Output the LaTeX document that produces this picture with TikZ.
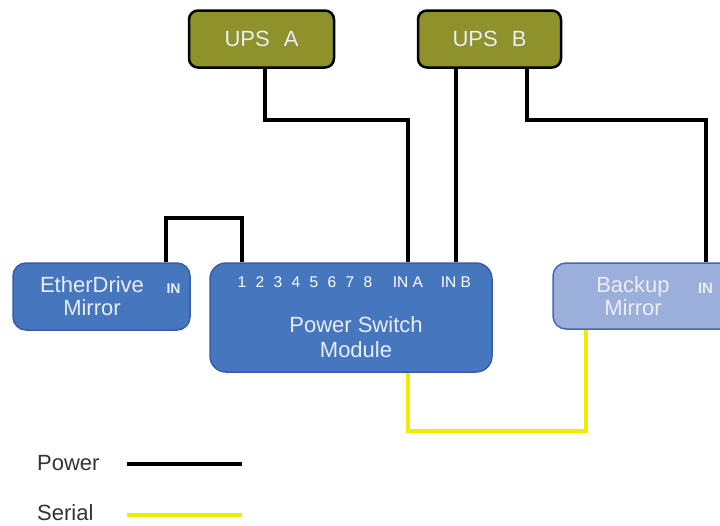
\documentclass[tikz,border=0pt]{standalone}
\usepackage{fontspec}
\setmainfont{Liberation Sans}
\usetikzlibrary{positioning,calc}

\definecolor{upsolive}{RGB}{143,146,42}
\definecolor{unitblue}{RGB}{70,118,190}
\definecolor{unitedge}{RGB}{56,92,168}
\definecolor{spareblue}{RGB}{156,174,218}
\definecolor{spareedge}{RGB}{66,104,184}
\definecolor{serialyellow}{RGB}{242,234,0}
\definecolor{labelwhite}{RGB}{232,237,246}

\begin{document}
\begin{tikzpicture}[
        x=1pt, y=-1pt,
        every node/.style={inner sep=0pt},
        ups/.style={rectangle, rounded corners=9pt, draw=black, line width=2.5pt, fill=upsolive, minimum height=57pt, text=labelwhite, font=\fontsize{22}{25}\selectfont},
        unit/.style={rectangle, rounded corners=13pt, draw=unitedge, line width=1.5pt, fill=unitblue},
        spare/.style={unit, draw=spareedge, fill=spareblue},
        boxtext/.style={text=labelwhite, align=center, font=\fontsize{22}{23}\selectfont},
        port/.style={anchor=base, text=white, font=\fontsize{15.5}{17}\selectfont},
        inport/.style={anchor=base, text=labelwhite, font=\fontsize{14}{16}\selectfont\bfseries},
        power/.style={draw=black, line width=4pt},
        serial/.style={draw=serialyellow, line width=4pt},
        legend/.style={anchor=base west, text=black!80, font=\fontsize{22}{25}\selectfont}
    ]
        \useasboundingbox (0,0) rectangle (720,525);

        % power sources
        \node[ups, minimum width=145pt] (upsA) at (261.5,39) {UPS\hspace{14pt}A};
        \node[ups, minimum width=143pt] (upsB) at (489.5,39) {UPS\hspace{14pt}B};

        % units
        \node[unit, minimum width=177pt, minimum height=67pt] (ether) at (101.5,296.5) {};
        \node[unit, rounded corners=16pt, minimum width=282pt, minimum height=109pt] (psm) at (351,317.5) {};
        \node[spare, minimum width=184pt, minimum height=66pt] (backup) at (645,296) {};

        \node[boxtext] (etherText) at (92,296.5) {EtherDrive\\Mirror};
        \node[boxtext, font=\fontsize{22}{25}\selectfont] (psmText) at (356,337.5) {Power Switch\\Module};
        \node[boxtext] (backupText) at (633,296.5) {Backup\\Mirror};

        \node[inport] (etherIn) at (173.5,293) {IN};
        \node[inport, font=\fontsize{15}{17}\selectfont\bfseries] (backIn) at (705.5,293) {IN};

        \foreach \n in {1,...,8}
            \node[port] (p\n) at ({242+18*(\n-1)},287) {\n};
        \node[port] (inA) at (408,287) {IN A};
        \node[port] (inB) at (456,287) {IN B};

        % power lines
        \draw[power] ([xshift=3pt]upsA.south) -- ++(0,51) -| (inA |- psm.north);
        \draw[power] (inB |- upsB.south) -- (inB |- psm.north);
        \draw[power] ([xshift=37pt]upsB.south) -- ++(0,51) -| (backIn |- backup.north);
        \draw[power] ([xshift=-25pt]ether.north east) -- ++(0,-44) -| (p1 |- psm.north);

        % serial line
        \draw[serial] (inA |- psm.south) -- ++(0,58) -| ([xshift=34pt]backup.south west);

        % legend
        \node[legend] (lgPower) at (37,470) {Power};
        \node[legend] (lgSerial) at (37,520) {Serial};
        \coordinate (pwrA) at (127,464);
        \coordinate (pwrB) at (242,464);
        \coordinate (serA) at (127,515);
        \coordinate (serB) at (242,515);
        \draw[power] (pwrA) -- (pwrB);
        \draw[serial] (serA) -- (serB);
    \end{tikzpicture}
\end{document}
